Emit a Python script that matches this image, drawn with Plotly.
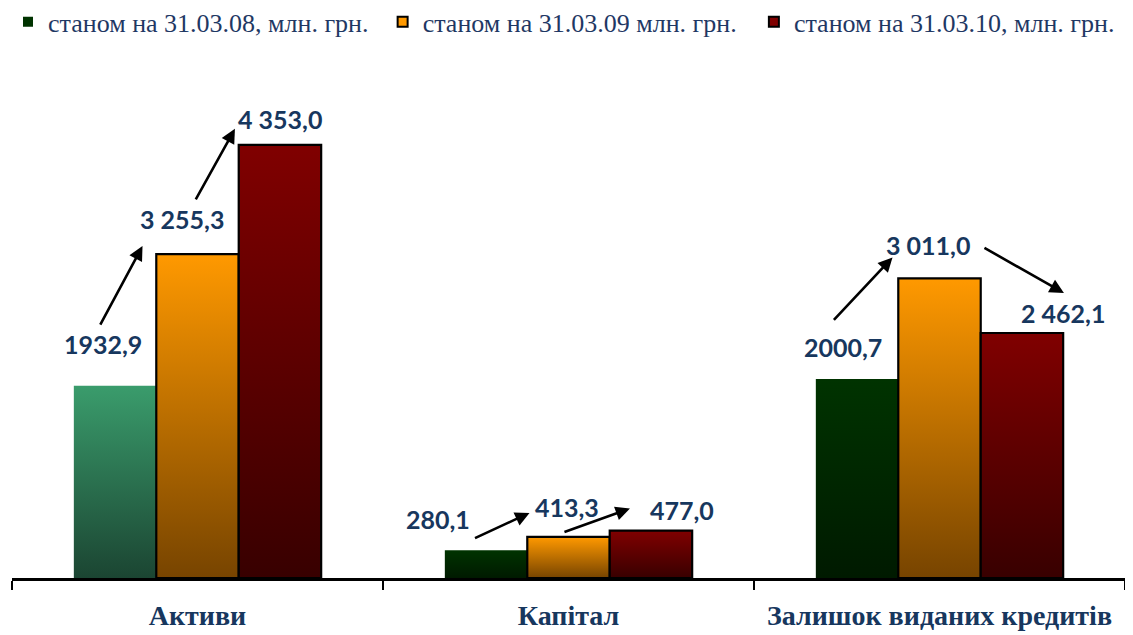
import plotly.graph_objects as go

# ---- data ----
categories = ["Активи", "Капітал", "Залишок виданих кредитів"]
series_names = ["станом на 31.03.08, млн. грн.", "станом на 31.03.09 млн. грн.", "станом на 31.03.10, млн. грн."]
values_08 = [1932.9, 280.1, 2000.7]
values_09 = [3255.3, 413.3, 3011.0]
values_10 = [4353.0, 477.0, 2462.1]
labels_08 = ["1932,9", "280,1", "2000,7"]
labels_09 = ["3 255,3", "413,3", "3 011,0"]
labels_10 = ["4 353,0", "477,0", "2 462,1"]

series_values = [values_08, values_09, values_10]
series_labels = [labels_08, labels_09, labels_10]

# ---- styles ----
# gradient colours per bar (bottom, top), indexed [series][category]
grad = [
    [("#1b4532", "#3a9c6c"), ("#001a00", "#003300"), ("#001a00", "#003300")],
    [("#774400", "#ff9900"), ("#774400", "#ff9900"), ("#774400", "#ff9900")],
    [("#380000", "#800000"), ("#380000", "#800000"), ("#380000", "#800000")],
]
legend_colors = ["#003300", "#ff9900", "#800000"]
legend_x = [0.0, 0.333, 0.663]  # container fraction of each legend box
outline = [0, 2.2, 2.2]
label_color = "#17375e"
bar_w = 2 / 9  # each bar width in category units (group = 2/3)

# label offsets (px) relative to own bar top centre: [series][category] -> (dx, dy)
label_off = [
    [(-12, 42), (-48, 31), (-14, 32)],
    [(-16, 35), (-2, 30), (-12, 33)],
    [(0, 26), (31, 21), (41, 20)],
]
# arrows: (from_series, to_series, category, head dx, head dy, tail ax, tail ay)
arrows = [
    (0, 1, 0, -55, 8, -43, 80),
    (1, 2, 0, -45, 16, -40, 72),
    (0, 1, 1, -39, 24, -56, 26),
    (1, 2, 1, -21, 22, -67, 24),
    (0, 1, 2, -47, 21, -60, 64),
    (1, 2, 2, 42, 40, -81, -46),
]

fig = go.Figure()


def bar_center(i, j):
    return i + (j - 1) * bar_w


for j, vals in enumerate(series_values):
    for i, v in enumerate(vals):
        c = bar_center(i, j)
        x0, x1 = c - bar_w / 2, c + bar_w / 2
        bottom, top = grad[j][i]
        fig.add_trace(go.Scatter(
            x=[x0, x1, x1, x0, x0], y=[0, 0, v, v, 0],
            mode="lines", fill="toself",
            fillgradient=dict(type="vertical", colorscale=[[0, bottom], [1, top]]),
            line=dict(color="black", width=outline[j]) if outline[j] else dict(width=0, color="rgba(0,0,0,0)"),
            showlegend=False, hoverinfo="text",
            text=f"{categories[i]}: {series_labels[j][i]}",
        ))

# legend entries (one legend box per series so each can be placed freely)
legend_ids = ["legend", "legend2", "legend3"]
for j, name in enumerate(series_names):
    fig.add_trace(go.Scatter(
        x=[None], y=[None], mode="markers", name=name, legend=legend_ids[j],
        marker=dict(symbol="square", size=10, color=legend_colors[j],
                    line=dict(color="black", width=2 if outline[j] else 0)),
    ))

# value labels
for j, vals in enumerate(series_values):
    for i, v in enumerate(vals):
        dx, dy = label_off[j][i]
        fig.add_annotation(
            x=bar_center(i, j), y=v, text=series_labels[j][i], showarrow=False,
            xshift=dx, yshift=dy, xanchor="center", yanchor="middle",
            font=dict(family="Lato", size=25, color=label_color, weight="bold"),
        )

# arrows
for (js, jt, i, hx, hy, ax, ay) in arrows:
    fig.add_annotation(
        x=bar_center(i, jt), y=series_values[jt][i], text="",
        xshift=hx, yshift=hy, ax=ax, ay=ay, axref="pixel", ayref="pixel",
        showarrow=True, arrowhead=2, arrowsize=1.1, arrowwidth=2.6,
        arrowcolor="black", standoff=0, startstandoff=0,
    )

legend_common = dict(
    orientation="h", xref="container", yref="container",
    y=0.978, xanchor="left", yanchor="middle",
    font=dict(family="Liberation Serif", size=26, color="#1f3864"),
    itemwidth=30, bgcolor="rgba(0,0,0,0)",
)

# the page adds an 8px body margin, so the figure is sized to the visible area
fig.update_layout(
    width=1125, height=627,
    margin=dict(l=4, r=8, t=72, b=57, autoexpand=False),
    paper_bgcolor="white", plot_bgcolor="white",
    showlegend=True,
    legend=dict(x=legend_x[0], **legend_common),
    legend2=dict(x=legend_x[1], **legend_common),
    legend3=dict(x=legend_x[2], **legend_common),
    xaxis=dict(
        range=[-0.5, 2.5], tickvals=[0, 1, 2], ticktext=categories,
        ticks="", showgrid=False, zeroline=False, automargin=False,
        showline=True, linecolor="black", linewidth=2.5,
        ticklabelstandoff=11,
        tickfont=dict(family="Liberation Serif", size=28, color=label_color, weight="bold"),
        minor=dict(tickvals=[-0.5, 0.5, 1.5, 2.5], ticks="outside", ticklen=9,
                   tickwidth=2, tickcolor="black", showgrid=False),
        fixedrange=True,
    ),
    yaxis=dict(range=[0, 5005], visible=False, showgrid=False, zeroline=False,
               automargin=False, fixedrange=True),
)

fig.write_html("out.html")
